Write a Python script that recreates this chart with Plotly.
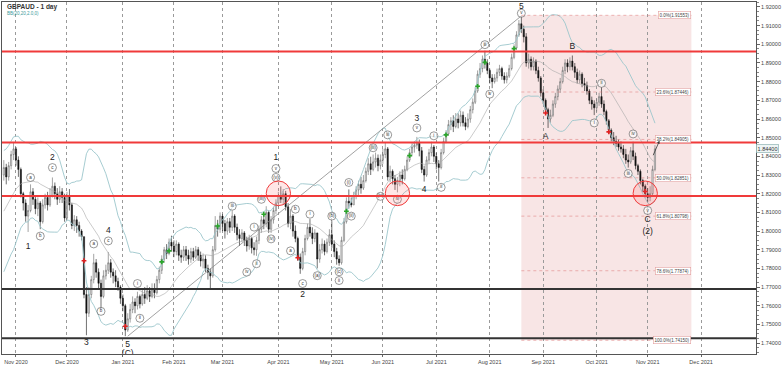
import pandas as pd
import plotly.graph_objects as go

symbol_title = "GBPAUD - 1 day"
indicator_title = "BB(20,20,2.0,0)"

# closes before the visible window (only used so the bands exist at the left edge)
warmup_close = [1.7850, 1.7900, 1.7880, 1.7950, 1.7920, 1.8000, 1.7970, 1.8050, 1.8030, 1.8100,
                1.8090, 1.8160, 1.8210, 1.8180, 1.8250, 1.8290, 1.8270, 1.8330, 1.8360]

# daily candles from 2020-10-26 (k=-5) to 2021-11-04 (k=263)
opens = [
 1.8300, 1.8340, 1.8290, 1.8350, 1.8410, 1.8440, 1.8380, 1.8330, 1.8200, 1.8150,
 1.8080, 1.8110, 1.8210, 1.8170, 1.8120, 1.8150, 1.8050, 1.8140, 1.8180, 1.8140,
 1.8190, 1.8240, 1.8200, 1.8170, 1.8210, 1.8180, 1.8070, 1.8190, 1.8140, 1.8030,
 1.8060, 1.8030, 1.8000, 1.7970, 1.7660, 1.7560, 1.7660, 1.7740, 1.7830, 1.7780,
 1.7720, 1.7650, 1.7760, 1.7790, 1.7830, 1.7780, 1.7760, 1.7730, 1.7700, 1.7640,
 1.7600, 1.7470, 1.7530, 1.7580, 1.7620, 1.7600, 1.7650, 1.7610, 1.7660, 1.7640,
 1.7680, 1.7650, 1.7690, 1.7670, 1.7740, 1.7790, 1.7850, 1.7900, 1.7880, 1.7940,
 1.7920, 1.7890, 1.7930, 1.7870, 1.7860, 1.7900, 1.7870, 1.7850, 1.7890, 1.7860,
 1.7900, 1.7870, 1.7840, 1.7850, 1.7800, 1.7780, 1.7760, 1.7900, 1.8030, 1.8010,
 1.8080, 1.8040, 1.8000, 1.8050, 1.8020, 1.8080, 1.8020, 1.7980, 1.7960, 1.7990,
 1.7950, 1.7920, 1.7960, 1.7910, 1.7900, 1.7950, 1.8010, 1.8060, 1.8040, 1.8100,
 1.8010, 1.8060, 1.8110, 1.8150, 1.8190, 1.8170, 1.8200, 1.8130, 1.8040, 1.8080,
 1.8000, 1.7960, 1.7860, 1.7800, 1.7890, 1.7960, 1.8020, 1.7990, 1.7960, 1.7990,
 1.7850, 1.7900, 1.7930, 1.7890, 1.7940, 1.7980, 1.7930, 1.7890, 1.7850, 1.7830,
 1.7950, 1.8050, 1.8160, 1.8150, 1.8140, 1.8190, 1.8220, 1.8250, 1.8230, 1.8270,
 1.8320, 1.8360, 1.8330, 1.8370, 1.8390, 1.8350, 1.8380, 1.8410, 1.8440, 1.8290,
 1.8320, 1.8280, 1.8250, 1.8270, 1.8300, 1.8280, 1.8330, 1.8380, 1.8420, 1.8450,
 1.8460, 1.8470, 1.8430, 1.8330, 1.8300, 1.8380, 1.8420, 1.8450, 1.8400, 1.8360,
 1.8340, 1.8420, 1.8480, 1.8520, 1.8570, 1.8590, 1.8560, 1.8600, 1.8580, 1.8620,
 1.8580, 1.8560, 1.8600, 1.8650, 1.8690, 1.8750, 1.8840, 1.8870, 1.8920, 1.8900,
 1.8860, 1.8820, 1.8800, 1.8820, 1.8850, 1.8870, 1.8830, 1.8810, 1.8830, 1.8870,
 1.8930, 1.8980, 1.9050, 1.9110, 1.9080, 1.9040, 1.8900, 1.8920, 1.8880, 1.8910,
 1.8860, 1.8820, 1.8740, 1.8700, 1.8650, 1.8600, 1.8620, 1.8680, 1.8720, 1.8760,
 1.8800, 1.8860, 1.8900, 1.8880, 1.8910, 1.8880, 1.8850, 1.8810, 1.8840, 1.8790,
 1.8780, 1.8750, 1.8700, 1.8680, 1.8660, 1.8690, 1.8720, 1.8680, 1.8640, 1.8590,
 1.8540, 1.8500, 1.8480, 1.8470, 1.8450, 1.8440, 1.8410, 1.8380, 1.8370, 1.8430,
 1.8400, 1.8350, 1.8320, 1.8270, 1.8240, 1.8200, 1.8180, 1.8200, 1.8330]

highs = [
 1.8380, 1.8360, 1.8370, 1.8430, 1.8475, 1.8450, 1.8400, 1.8340, 1.8210, 1.8170,
 1.8140, 1.8250, 1.8230, 1.8190, 1.8180, 1.8160, 1.8170, 1.8200, 1.8210, 1.8230,
 1.8287, 1.8260, 1.8230, 1.8240, 1.8230, 1.8200, 1.8210, 1.8225, 1.8150, 1.8085,
 1.8080, 1.8050, 1.8010, 1.7970, 1.7700, 1.7700, 1.7760, 1.7878, 1.7850, 1.7800,
 1.7740, 1.7790, 1.7820, 1.7888, 1.7850, 1.7800, 1.7790, 1.7750, 1.7710, 1.7660,
 1.7610, 1.7560, 1.7610, 1.7650, 1.7640, 1.7675, 1.7660, 1.7690, 1.7700, 1.7710,
 1.7700, 1.7720, 1.7720, 1.7760, 1.7810, 1.7870, 1.7915, 1.7930, 1.7960, 1.7975,
 1.7950, 1.7950, 1.7940, 1.7900, 1.7920, 1.7920, 1.7900, 1.7910, 1.7910, 1.7920,
 1.7915, 1.7890, 1.7880, 1.7870, 1.7820, 1.7800, 1.7920, 1.8080, 1.8060, 1.8100,
 1.8090, 1.8060, 1.8070, 1.8070, 1.8110, 1.8090, 1.8040, 1.8010, 1.8010, 1.8000,
 1.7970, 1.7980, 1.7970, 1.7940, 1.7970, 1.8030, 1.8080, 1.8090, 1.8133, 1.8110,
 1.8080, 1.8130, 1.8170, 1.8210, 1.8239, 1.8225, 1.8215, 1.8150, 1.8117, 1.8090,
 1.8030, 1.7970, 1.7880, 1.7910, 1.7980, 1.8040, 1.8064, 1.8020, 1.8010, 1.7990,
 1.7930, 1.7960, 1.7950, 1.7960, 1.8010, 1.8053, 1.7950, 1.7910, 1.7870, 1.7970,
 1.8070, 1.8180, 1.8223, 1.8180, 1.8210, 1.8240, 1.8270, 1.8290, 1.8300, 1.8340,
 1.8390, 1.8398, 1.8410, 1.8420, 1.8410, 1.8410, 1.8440, 1.8473, 1.8450, 1.8350,
 1.8330, 1.8300, 1.8290, 1.8320, 1.8330, 1.8350, 1.8400, 1.8440, 1.8470, 1.8480,
 1.8504, 1.8490, 1.8450, 1.8350, 1.8400, 1.8440, 1.8478, 1.8460, 1.8420, 1.8380,
 1.8440, 1.8500, 1.8540, 1.8595, 1.8610, 1.8620, 1.8632, 1.8630, 1.8645, 1.8640,
 1.8610, 1.8630, 1.8670, 1.8710, 1.8770, 1.8860, 1.8900, 1.8940, 1.8966, 1.8920,
 1.8870, 1.8840, 1.8840, 1.8870, 1.8890, 1.8880, 1.8850, 1.8850, 1.8890, 1.8950,
 1.9000, 1.9070, 1.9130, 1.9152, 1.9100, 1.9060, 1.8950, 1.8935, 1.8930, 1.8920,
 1.8880, 1.8830, 1.8760, 1.8710, 1.8660, 1.8650, 1.8700, 1.8740, 1.8780, 1.8820,
 1.8880, 1.8920, 1.8920, 1.8930, 1.8940, 1.8900, 1.8870, 1.8860, 1.8850, 1.8820,
 1.8800, 1.8760, 1.8720, 1.8700, 1.8710, 1.8740, 1.8770, 1.8700, 1.8650, 1.8600,
 1.8550, 1.8530, 1.8510, 1.8490, 1.8480, 1.8460, 1.8440, 1.8410, 1.8450, 1.8478,
 1.8420, 1.8360, 1.8330, 1.8280, 1.8250, 1.8230, 1.8240, 1.8350, 1.8460]

lows = [
 1.8270, 1.8250, 1.8270, 1.8330, 1.8380, 1.8350, 1.8290, 1.8180, 1.8110, 1.8050,
 1.7995, 1.8100, 1.8140, 1.8090, 1.8080, 1.8010, 1.8040, 1.8120, 1.8110, 1.8130,
 1.8180, 1.8170, 1.8140, 1.8150, 1.8150, 1.8050, 1.8060, 1.8110, 1.8010, 1.8000,
 1.7990, 1.7970, 1.7950, 1.7640, 1.7442, 1.7540, 1.7640, 1.7720, 1.7750, 1.7690,
 1.7580, 1.7640, 1.7740, 1.7770, 1.7750, 1.7720, 1.7700, 1.7680, 1.7610, 1.7570,
 1.7437, 1.7460, 1.7510, 1.7560, 1.7560, 1.7580, 1.7586, 1.7600, 1.7610, 1.7630,
 1.7620, 1.7640, 1.7640, 1.7660, 1.7720, 1.7770, 1.7830, 1.7850, 1.7870, 1.7890,
 1.7860, 1.7870, 1.7840, 1.7830, 1.7840, 1.7840, 1.7820, 1.7830, 1.7840, 1.7850,
 1.7840, 1.7810, 1.7800, 1.7780, 1.7740, 1.7692, 1.7750, 1.7890, 1.7970, 1.7990,
 1.8000, 1.7960, 1.7980, 1.7990, 1.8000, 1.7990, 1.7950, 1.7920, 1.7940, 1.7920,
 1.7890, 1.7900, 1.7880, 1.7870, 1.7867, 1.7930, 1.7990, 1.8010, 1.8020, 1.7990,
 1.7990, 1.8040, 1.8090, 1.8130, 1.8150, 1.8140, 1.8110, 1.8020, 1.8010, 1.7970,
 1.7940, 1.7840, 1.7771, 1.7790, 1.7870, 1.7950, 1.7970, 1.7930, 1.7940, 1.7800,
 1.7830, 1.7880, 1.7870, 1.7880, 1.7920, 1.7910, 1.7860, 1.7820, 1.7814, 1.7820,
 1.7940, 1.8040, 1.8120, 1.8127, 1.8140, 1.8170, 1.8190, 1.8200, 1.8220, 1.8260,
 1.8300, 1.8300, 1.8320, 1.8340, 1.8320, 1.8330, 1.8360, 1.8390, 1.8270, 1.8260,
 1.8250, 1.8220, 1.8207, 1.8240, 1.8250, 1.8270, 1.8320, 1.8370, 1.8400, 1.8420,
 1.8440, 1.8400, 1.8310, 1.8265, 1.8290, 1.8360, 1.8400, 1.8370, 1.8330, 1.8265,
 1.8330, 1.8410, 1.8470, 1.8510, 1.8540, 1.8530, 1.8550, 1.8550, 1.8560, 1.8560,
 1.8540, 1.8550, 1.8580, 1.8630, 1.8680, 1.8740, 1.8820, 1.8850, 1.8870, 1.8840,
 1.8790, 1.8765, 1.8790, 1.8800, 1.8830, 1.8810, 1.8790, 1.8791, 1.8820, 1.8860,
 1.8920, 1.8970, 1.9040, 1.9060, 1.9010, 1.8880, 1.8870, 1.8860, 1.8860, 1.8840,
 1.8800, 1.8720, 1.8680, 1.8630, 1.8552, 1.8580, 1.8610, 1.8660, 1.8700, 1.8740,
 1.8790, 1.8840, 1.8850, 1.8860, 1.8860, 1.8820, 1.8790, 1.8790, 1.8770, 1.8750,
 1.8730, 1.8680, 1.8650, 1.8621, 1.8640, 1.8670, 1.8660, 1.8620, 1.8570, 1.8520,
 1.8480, 1.8460, 1.8450, 1.8430, 1.8420, 1.8390, 1.8360, 1.8340, 1.8360, 1.8380,
 1.8330, 1.8300, 1.8250, 1.8210, 1.8180, 1.8154, 1.8160, 1.8190, 1.8320]

closes = [
 1.8340, 1.8290, 1.8350, 1.8410, 1.8440, 1.8380, 1.8330, 1.8200, 1.8150, 1.8080,
 1.8110, 1.8210, 1.8170, 1.8120, 1.8150, 1.8050, 1.8140, 1.8180, 1.8140, 1.8190,
 1.8240, 1.8200, 1.8170, 1.8210, 1.8180, 1.8070, 1.8190, 1.8140, 1.8030, 1.8060,
 1.8030, 1.8000, 1.7970, 1.7660, 1.7560, 1.7660, 1.7740, 1.7830, 1.7780, 1.7720,
 1.7650, 1.7760, 1.7790, 1.7830, 1.7780, 1.7760, 1.7730, 1.7700, 1.7640, 1.7600,
 1.7470, 1.7530, 1.7580, 1.7620, 1.7600, 1.7650, 1.7610, 1.7660, 1.7640, 1.7680,
 1.7650, 1.7690, 1.7670, 1.7740, 1.7790, 1.7850, 1.7900, 1.7880, 1.7940, 1.7920,
 1.7890, 1.7930, 1.7870, 1.7860, 1.7900, 1.7870, 1.7850, 1.7890, 1.7860, 1.7900,
 1.7870, 1.7840, 1.7850, 1.7800, 1.7780, 1.7760, 1.7900, 1.8030, 1.8010, 1.8080,
 1.8040, 1.8000, 1.8050, 1.8020, 1.8080, 1.8020, 1.7980, 1.7960, 1.7990, 1.7950,
 1.7920, 1.7960, 1.7910, 1.7900, 1.7950, 1.8010, 1.8060, 1.8040, 1.8100, 1.8010,
 1.8060, 1.8110, 1.8150, 1.8190, 1.8170, 1.8200, 1.8130, 1.8040, 1.8080, 1.8000,
 1.7960, 1.7860, 1.7800, 1.7890, 1.7960, 1.8020, 1.7990, 1.7960, 1.7990, 1.7850,
 1.7900, 1.7930, 1.7890, 1.7940, 1.7980, 1.7930, 1.7890, 1.7850, 1.7830, 1.7950,
 1.8050, 1.8160, 1.8150, 1.8140, 1.8190, 1.8220, 1.8250, 1.8230, 1.8270, 1.8320,
 1.8360, 1.8330, 1.8370, 1.8390, 1.8350, 1.8380, 1.8410, 1.8440, 1.8290, 1.8320,
 1.8280, 1.8250, 1.8270, 1.8300, 1.8280, 1.8330, 1.8380, 1.8420, 1.8450, 1.8460,
 1.8470, 1.8430, 1.8330, 1.8300, 1.8380, 1.8420, 1.8450, 1.8400, 1.8360, 1.8340,
 1.8420, 1.8480, 1.8520, 1.8570, 1.8590, 1.8560, 1.8600, 1.8580, 1.8620, 1.8580,
 1.8560, 1.8600, 1.8650, 1.8690, 1.8750, 1.8840, 1.8870, 1.8920, 1.8900, 1.8860,
 1.8820, 1.8800, 1.8820, 1.8850, 1.8870, 1.8830, 1.8810, 1.8830, 1.8870, 1.8930,
 1.8980, 1.9050, 1.9110, 1.9080, 1.9040, 1.8900, 1.8920, 1.8880, 1.8910, 1.8860,
 1.8820, 1.8740, 1.8700, 1.8650, 1.8600, 1.8620, 1.8680, 1.8720, 1.8760, 1.8800,
 1.8860, 1.8900, 1.8880, 1.8910, 1.8880, 1.8850, 1.8810, 1.8840, 1.8790, 1.8780,
 1.8750, 1.8700, 1.8680, 1.8660, 1.8690, 1.8720, 1.8680, 1.8640, 1.8590, 1.8540,
 1.8500, 1.8480, 1.8470, 1.8450, 1.8440, 1.8410, 1.8380, 1.8370, 1.8430, 1.8400,
 1.8350, 1.8320, 1.8270, 1.8240, 1.8200, 1.8180, 1.8200, 1.8330, 1.8440]

month_ticks = ["2020-11-02", "2020-12-01", "2021-01-01", "2021-02-01", "2021-03-01", "2021-04-01",
               "2021-05-03", "2021-06-01", "2021-07-01", "2021-08-02", "2021-09-01", "2021-10-01",
               "2021-11-01", "2021-12-01"]
month_text = ["Nov 2020", "Dec 2020", "Jan 2021", "Feb 2021", "Mar 2021", "Apr 2021", "May 2021",
              "Jun 2021", "Jul 2021", "Aug 2021", "Sep 2021", "Oct 2021", "Nov 2021", "Dec 2021"]

red_levels = [1.8962, 1.8474, 1.8188]
black_levels = [1.7690, 1.7426]

fib_high = 1.91553
fib_low = 1.74150
fib_ratios = [0.0, 0.236, 0.382, 0.5, 0.618, 0.786, 1.0]
fib_start = "2021-08-19"
fib_end = "2021-11-25"

# wave labels: k = trading-day index (0 = 2020-11-02)
big_text = ["1", "2", "3", "4", "5", "(C)", "1", "2", "3", "4", "5", "A", "B", "C", "(2)"]
big_k = [5, 15, 29, 38, 46, 46, 107, 118, 165, 168, 208, 218, 229, 260, 260]
big_price = [1.7915, 1.8393, 1.7400, 1.8000, 1.7389, 1.7342, 1.8393, 1.7660, 1.8600, 1.8223,
             1.9203, 1.8504, 1.8988, 1.8058, 1.7995]

small_text = ["a", "b", "c", "a", "b", "c", "i", "ii", "iii", "i", "ii", "iv", "(iii)", "(iv)", "v",
              "(v)", "a", "b", "c", "i", "(a)", "(b)", "(c)", "ii", "(i)", "(ii)", "(iii)", "iii",
              "(iv)", "iv", "v", "i", "ii", "iii", "iv", "v", "i", "ii", "iii", "iv", "v"]
small_k = [6, 10, 15, 32, 35, 38, 50, 51, 89, 98, 99, 95, 101, 105, 107,
           107, 113, 115, 118, 121, 124, 130, 133, 133, 137, 138, 147, 153,
           150, 157, 165, 172, 175, 193, 195, 208, 238, 241, 252, 254, 260]
small_price = [1.8287, 1.7973, 1.8340, 1.7931, 1.7570, 1.7947, 1.7719, 1.7533, 1.8133, 1.8021,
               1.7825, 1.7780, 1.8170, 1.7958, 1.8335, 1.8287, 1.7894, 1.8117, 1.7719, 1.8090,
               1.7761, 1.8080, 1.7782, 1.7735, 1.8260, 1.8080, 1.8446, 1.8515, 1.8186, 1.8170,
               1.8552, 1.8510, 1.8234, 1.8998, 1.8733, 1.9166, 1.8579, 1.8791, 1.8308, 1.8520,
               1.8110]

green_k = [60, 63, 83, 102, 136, 162, 177, 190, 193, 205]
green_price = [1.7835, 1.7894, 1.8027, 1.8090, 1.8106, 1.8404, 1.8515, 1.8775, 1.8903, 1.8977]
red_k = [28, 45, 116, 218, 244, 259]
red_price = [1.7841, 1.7490, 1.7857, 1.8632, 1.8531, 1.8212]

circle_k = [108, 157, 259]
circle_price = [1.8202, 1.8202, 1.8202]

trend_k = [46, 208]
trend_price = [1.7437, 1.9152]

arrow_x = ["2021-11-03", "2021-11-05 20:00"]
arrow_y = [1.8398, 1.8483]

# ---------------------------------------------------------------
n_warm = len(warmup_close)
all_dates = pd.bdate_range("2020-09-29", periods=n_warm + len(closes))
dates = all_dates[n_warm:]
K_ORIGIN = pd.Timestamp("2020-11-02")


def kd(k):
    return K_ORIGIN + pd.offsets.BDay(int(k))


cs = pd.Series(warmup_close + closes)
mid = cs.rolling(20).mean()
sd = cs.rolling(20).std(ddof=0)
upper = mid + 2 * sd
lower = mid - 2 * sd

FONT = "Liberation Sans"
fig = go.Figure()

fig.add_trace(go.Scatter(x=all_dates, y=upper, mode="lines", line=dict(color="#9cc6cc", width=0.9),
                         hoverinfo="skip"))
fig.add_trace(go.Scatter(x=all_dates, y=lower, mode="lines", line=dict(color="#9cc6cc", width=0.9),
                         hoverinfo="skip"))
fig.add_trace(go.Scatter(x=all_dates, y=mid, mode="lines", line=dict(color="#a8a8a8", width=0.6),
                         hoverinfo="skip"))

fig.add_trace(go.Scatter(x=[kd(k) for k in trend_k], y=trend_price, mode="lines",
                         line=dict(color="#8a8a8a", width=0.8), hoverinfo="skip"))

fig.add_trace(go.Candlestick(
    x=dates, open=opens, high=highs, low=lows, close=closes,
    increasing=dict(line=dict(color="#666666", width=0.6), fillcolor="#ffffff"),
    decreasing=dict(line=dict(color="#111111", width=0.6), fillcolor="#111111"),
    whiskerwidth=0,
))

fig.add_trace(go.Scatter(x=[kd(k) for k in green_k], y=green_price, mode="markers",
                         marker=dict(symbol="cross", size=4, color="#2aa52a"), hoverinfo="skip"))
fig.add_trace(go.Scatter(x=[kd(k) for k in red_k], y=red_price, mode="markers",
                         marker=dict(symbol="cross", size=4, color="#e02020"), hoverinfo="skip"))

fig.add_trace(go.Scatter(
    x=[kd(k) for k in small_k], y=small_price, mode="markers+text", text=small_text,
    textposition="middle center", textfont=dict(size=4.5, color="#333", family=FONT),
    marker=dict(symbol="circle", size=8, color="rgba(255,255,255,0.6)",
                line=dict(color="#555", width=0.6)),
    cliponaxis=True, hoverinfo="skip"))
fig.add_trace(go.Scatter(
    x=[kd(k) for k in big_k], y=big_price, mode="text", text=big_text,
    textposition="middle center", textfont=dict(size=8.5, color="#222", family=FONT),
    cliponaxis=True, hoverinfo="skip"))

shapes = []
shapes.append(dict(type="rect", xref="x", yref="y", x0=fib_start, x1=fib_end, y0=fib_low, y1=fib_high,
                   fillcolor="rgba(238,190,190,0.4)", line=dict(width=0), layer="below"))
annotations = []
for r in fib_ratios:
    lvl = fib_high - r * (fib_high - fib_low)
    shapes.append(dict(type="line", xref="x", yref="y", x0=fib_start, x1=fib_end, y0=lvl, y1=lvl,
                       line=dict(color="rgba(220,110,110,0.8)", width=0.6, dash="dot")))
    annotations.append(dict(x=fib_end, y=lvl, xref="x", yref="y", xanchor="right", yanchor="middle",
                            text=f"{r*100:.1f}%({lvl:.5f})", showarrow=False,
                            font=dict(size=4.5, color="#444", family=FONT),
                            bgcolor="#ffffff", bordercolor="#e3a0a0", borderwidth=0.6, borderpad=1))

for lvl in red_levels:
    shapes.append(dict(type="line", xref="paper", yref="y", x0=0, x1=1, y0=lvl, y1=lvl,
                       line=dict(color="#f03a3a", width=2)))
for lvl in black_levels:
    shapes.append(dict(type="line", xref="paper", yref="y", x0=0, x1=1, y0=lvl, y1=lvl,
                       line=dict(color="#333333", width=2)))

for k, p in zip(circle_k, circle_price):
    shapes.append(dict(type="circle", xref="x", yref="y", x0=kd(k - 5), x1=kd(k + 5),
                       y0=p - 0.0066, y1=p + 0.0066,
                       line=dict(color="#f03a3a", width=1), fillcolor="rgba(255,90,90,0.15)"))

annotations.append(dict(x=arrow_x[1], y=arrow_y[1], ax=arrow_x[0], ay=arrow_y[0], xref="x", yref="y",
                        axref="x", ayref="y", showarrow=True, arrowhead=2, arrowsize=0.7,
                        arrowwidth=0.8, arrowcolor="#333", text=""))

annotations.append(dict(x=1, y=closes[-1], xref="paper", yref="y", xanchor="left", yanchor="middle",
                        text=f"{closes[-1]:.5f}", showarrow=False,
                        font=dict(size=5.5, color="#333", family=FONT),
                        bgcolor="#eef5f5", bordercolor="#7fa9a9", borderwidth=0.6, borderpad=1))

annotations.append(dict(x=0.004, y=0.987, xref="paper", yref="paper", xanchor="left", yanchor="middle",
                        text=f"<b>{symbol_title}</b>", showarrow=False,
                        font=dict(size=6.5, color="#333", family=FONT)))
annotations.append(dict(x=0.004, y=0.966, xref="paper", yref="paper", xanchor="left", yanchor="middle",
                        text=indicator_title, showarrow=False,
                        font=dict(size=4.5, color="#3a9a9a", family=FONT)))

fig.update_layout(
    width=782, height=366,
    margin=dict(l=1, r=25, t=1, b=10),
    paper_bgcolor="white", plot_bgcolor="white",
    showlegend=False,
    shapes=shapes, annotations=annotations,
    font=dict(family=FONT, size=5.5, color="#444"),
    xaxis=dict(
        type="date", range=["2020-10-23 06:00", "2021-12-31 14:00"],
        rangebreaks=[dict(bounds=["sat", "mon"])],
        rangeslider=dict(visible=False),
        tickvals=month_ticks, ticktext=month_text,
        tickfont=dict(size=5.5, color="#444"),
        showgrid=True, gridcolor="#9a9a9a", griddash="dot", gridwidth=0.6,
        ticks="outside", ticklen=2, tickcolor="#666",
        showline=True, mirror=True, linecolor="#555", linewidth=1,
        zeroline=False,
    ),
    yaxis=dict(
        side="right", range=[1.73416, 1.92265], dtick=0.01, tick0=1.74, tickformat=".5f",
        tickfont=dict(size=5.5, color="#444"),
        showgrid=False, ticks="outside", ticklen=3, tickcolor="#666",
        minor=dict(dtick=0.0025, ticks="outside", ticklen=2, tickcolor="#888"),
        showline=True, mirror=True, linecolor="#555", linewidth=1,
        zeroline=False,
    ),
)

fig.write_html("out.html")
